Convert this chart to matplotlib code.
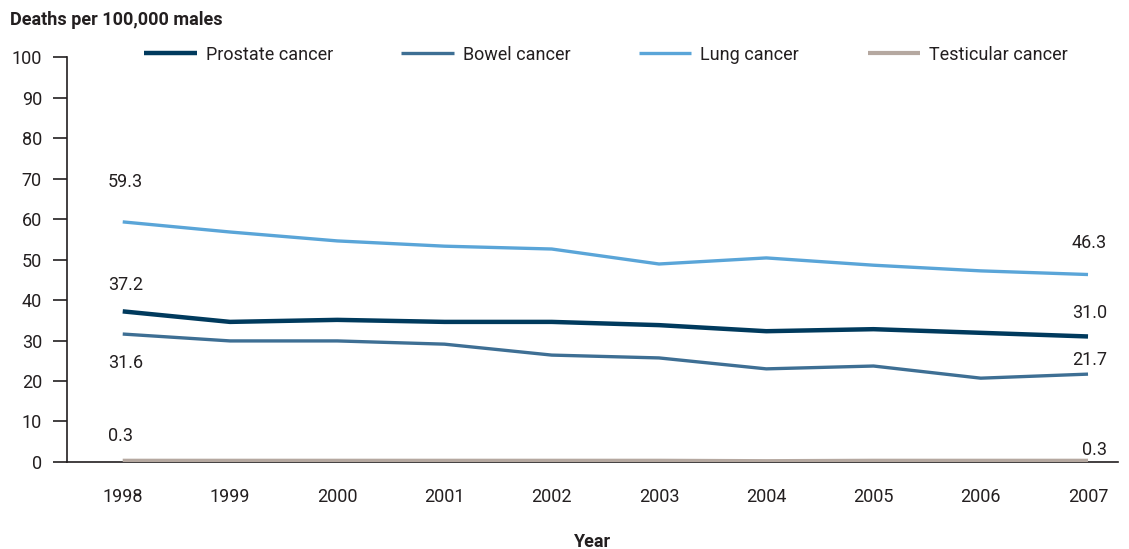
import matplotlib.pyplot as plt

plt.rcParams['font.family'] = ['Roboto', 'DejaVu Sans']

# Sterfte per 100 000 mannen, 1998-2007
years = [1998, 1999, 2000, 2001, 2002, 2003, 2004, 2005, 2006, 2007]
prostate = [37.2, 34.6, 35.1, 34.6, 34.6, 33.8, 32.3, 32.8, 31.9, 31.0]
bowel = [31.6, 29.9, 29.9, 29.1, 26.4, 25.7, 23.0, 23.7, 20.7, 21.7]
lung = [59.3, 56.8, 54.6, 53.3, 52.6, 48.9, 50.4, 48.6, 47.2, 46.3]
testicular = [0.3, 0.3, 0.3, 0.3, 0.3, 0.3, 0.2, 0.3, 0.3, 0.3]

names = ['Prostate cancer', 'Bowel cancer', 'Lung cancer', 'Testicular cancer']
colors = ['#003a5d', '#3e6f94', '#5aa5d8', '#b5a8a0']
widths = [3.2, 2.4, 2.4, 3.0]
series = [prostate, bowel, lung, testicular]

# label offsets in pixels (start, end)
start_off = [(-15, 26), (-15, -29), (-15, 40), (-15, 25)]
end_off = [(19, 23), (19, 14), (19, 32), (19, 11)]

fig = plt.figure(figsize=(11.29, 5.49), dpi=100)
ax = fig.add_axes([0.0593, 0.1585, 0.931, 0.7375])

for vals, name, c, lw, so, eo in zip(series, names, colors, widths, start_off, end_off):
    ax.plot(years, vals, color=c, lw=lw, label=name, solid_capstyle='butt', zorder=3)
    ax.annotate(f'{vals[0]:.1f}', (years[0], vals[0]), xytext=so, textcoords='offset pixels',
                ha='left', va='center', fontsize=13, color='#231f20')
    ax.annotate(f'{vals[-1]:.1f}', (years[-1], vals[-1]), xytext=eo, textcoords='offset pixels',
                ha='right', va='center', fontsize=13, color='#231f20')

ax.set_xlim(1997.48, 2007.28)
ax.set_ylim(0, 100)
ax.set_yticks(range(0, 101, 10))
ax.set_xticks(years)
ax.tick_params(axis='y', length=10, width=1.2, color='#231f20', labelsize=13, pad=8,
               labelcolor='#231f20')
ax.tick_params(axis='x', length=0, labelsize=13, pad=19, labelcolor='#231f20')

for s in ['top', 'right']:
    ax.spines[s].set_visible(False)
ax.spines['left'].set_color('#231f20')
ax.spines['bottom'].set_color('#231f20')
ax.spines['left'].set_linewidth(1.2)
ax.spines['bottom'].set_linewidth(1.2)

ax.set_xlabel('Year', fontsize=13, fontweight='bold', labelpad=19, color='#231f20')
fig.text(0.009, 0.963, 'Deaths per 100,000 males', fontsize=13, fontweight='bold',
         ha='left', va='center', color='#231f20')

ax.legend(loc='upper left', bbox_to_anchor=(0.058, 1.068), ncol=4, frameon=False,
          fontsize=13, handlelength=2.9, handletextpad=0.5, columnspacing=3.8,
          labelcolor='#231f20')

fig.savefig('out.png', dpi=100)
